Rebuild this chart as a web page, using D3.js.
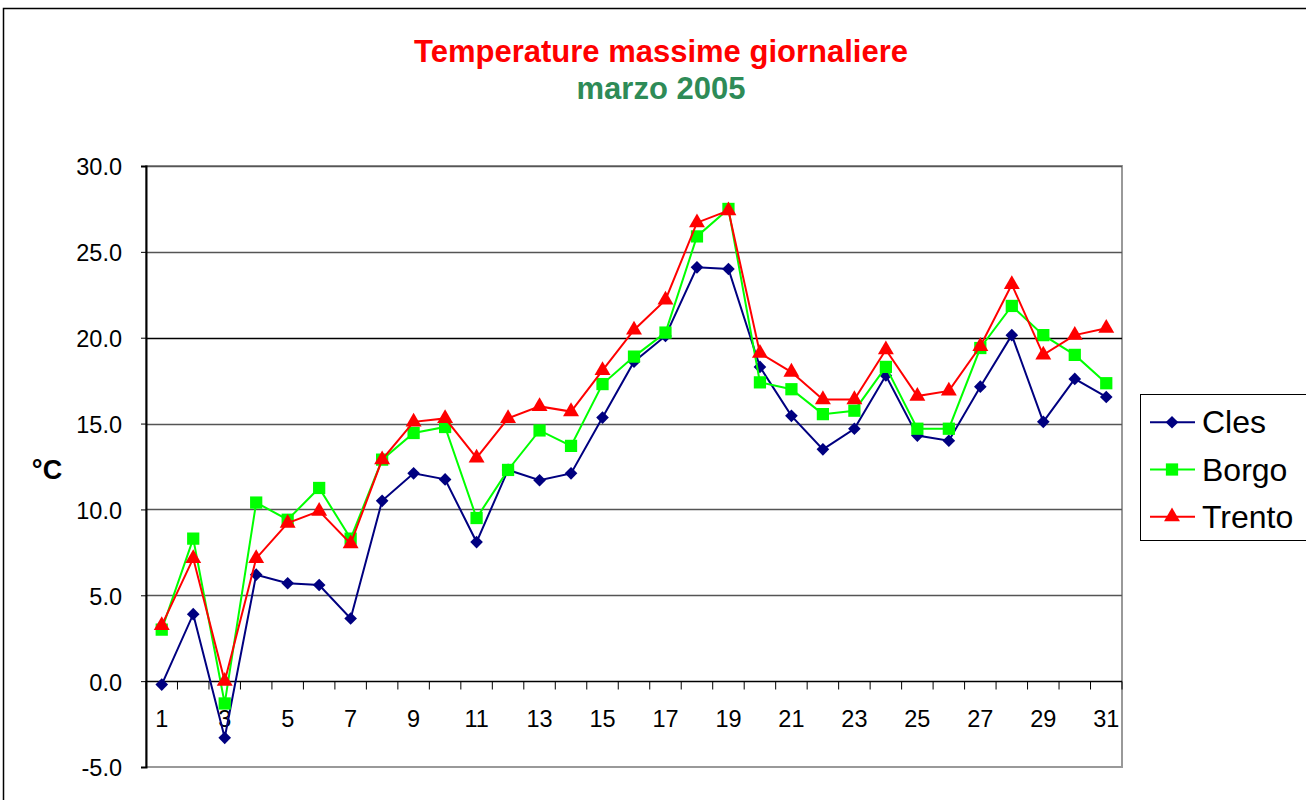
<!DOCTYPE html>
<html>
<head>
<meta charset="utf-8">
<script src="https://cdnjs.cloudflare.com/ajax/libs/d3/7.8.5/d3.min.js"></script>
<style>
  body { margin: 0; background: #fff; }
  svg { font-family: "Liberation Sans", Arial, sans-serif; }
</style>
</head>
<body>
<div id="chart"></div>
<script>
var width = 1306;
var height = 800;

var days = d3.range(1, 32);
var dayLabels = ["1","3","5","7","9","11","13","15","17","19","21","23","25","27","29","31"];
var yTicks = [-5, 0, 5, 10, 15, 20, 25, 30];

var cles = [-0.2, 3.9, -3.3, 6.2, 5.7, 5.6, 3.65, 10.5, 12.1, 11.75, 8.1, 12.3, 11.7, 12.1, 15.35,
            18.6, 20.1, 24.1, 24.0, 18.3, 15.45, 13.5, 14.7, 17.8, 14.3, 14.0, 17.15, 20.15, 15.1, 17.6, 16.55];
var borgo = [3.0, 8.3, -1.3, 10.4, 9.4, 11.25, 8.3, 12.9, 14.45, 14.8, 9.5, 12.3, 14.6, 13.7, 17.3,
             18.9, 20.3, 25.9, 27.5, 17.4, 17.0, 15.55, 15.75, 18.3, 14.7, 14.7, 19.4, 21.85, 20.15, 19.0, 17.35];
var trento = [3.25, 7.15, 0.0, 7.15, 9.2, 9.9, 8.0, 12.9, 15.1, 15.3, 13.0, 15.3, 16.0, 15.7, 18.1,
              20.45, 22.2, 26.7, 27.4, 19.1, 18.0, 16.4, 16.4, 19.3, 16.6, 16.9, 19.5, 23.1, 19.0, 20.15, 20.55];

// diamond is drawn as a square turned by 45 degrees
var series = [
  {name: "Cles", values: cles, color: "#000080", symbol: d3.symbolSquare, size: 80, rot: 45},
  {name: "Borgo", values: borgo, color: "#00ff00", symbol: d3.symbolSquare, size: 150, rot: 0},
  {name: "Trento", values: trento, color: "#ff0000", symbol: d3.symbolTriangle, size: 110, rot: 0}
];

var plot = {left: 146, right: 1122, top: 166, bottom: 767};

var xScale = d3.scaleBand().domain(days).range([plot.left, plot.right]);
var yScale = d3.scaleLinear().domain([-5, 30]).range([plot.bottom, plot.top]);

var svg = d3.select("#chart")
  .append("svg")
  .attr("width", width)
  .attr("height", height);

// outer chart frame
svg.append("rect")
  .attr("x", 3.5).attr("y", 8.5)
  .attr("width", 1320).attr("height", 820)
  .attr("fill", "none")
  .attr("stroke", "#000")
  .attr("stroke-width", 1.5);

// titles
svg.append("text")
  .attr("x", 661).attr("y", 62)
  .attr("text-anchor", "middle")
  .style("font-size", "31px").style("font-weight", "bold")
  .style("fill", "#ff0000")
  .text("Temperature massime giornaliere");

svg.append("text")
  .attr("x", 661).attr("y", 99)
  .attr("text-anchor", "middle")
  .style("font-size", "31px").style("font-weight", "bold")
  .style("fill", "#2e8b57")
  .text("marzo 2005");

// plot border
svg.append("rect")
  .attr("x", plot.left).attr("y", plot.top)
  .attr("width", plot.right - plot.left).attr("height", plot.bottom - plot.top)
  .attr("fill", "#fff")
  .attr("stroke", "#999")
  .attr("stroke-width", 2);

// gridlines
svg.append("g")
  .selectAll("line")
  .data(yTicks.filter(function(d) { return d !== 0 && d !== -5; }))
  .enter()
  .append("line")
  .attr("x1", plot.left).attr("x2", plot.right)
  .attr("y1", function(d) { return Math.round(yScale(d)) + 0.5; })
  .attr("y2", function(d) { return Math.round(yScale(d)) + 0.5; })
  .attr("stroke", function(d) { return d === 20 ? "#000" : "#555"; })
  .attr("stroke-width", 1.5);

// y axis
var yAxis = d3.axisLeft(yScale)
  .tickValues(yTicks)
  .tickSize(5)
  .tickPadding(19)
  .tickFormat(function(d) { return d.toFixed(1); });

var gy = svg.append("g")
  .attr("transform", "translate(" + plot.left + ",0)")
  .call(yAxis);
gy.select(".domain").attr("stroke", "#000").attr("stroke-width", 2);
gy.selectAll(".tick line").attr("stroke", "#000");
gy.selectAll("text")
  .style("font-size", "23.5px")
  .style("font-family", "Liberation Sans, Arial, sans-serif")
  .attr("dy", "0.38em")
  .attr("fill", "#000");

// x axis at zero
var y0 = Math.round(yScale(0)) + 0.5;
var gx = svg.append("g").attr("transform", "translate(0," + y0 + ")");
gx.append("line")
  .attr("x1", plot.left).attr("x2", plot.right)
  .attr("stroke", "#000").attr("stroke-width", 1.5);
gx.selectAll("line.tick")
  .data(days.concat([32]))
  .enter()
  .append("line")
  .attr("class", "tick")
  .attr("x1", function(d) { return d === 32 ? plot.right : xScale(d); })
  .attr("x2", function(d) { return d === 32 ? plot.right : xScale(d); })
  .attr("y1", 0).attr("y2", 8)
  .attr("stroke", "#000");
gx.selectAll("text")
  .data(dayLabels)
  .enter()
  .append("text")
  .attr("x", function(d) { return xScale(+d) + xScale.bandwidth() / 2; })
  .attr("y", 45)
  .attr("text-anchor", "middle")
  .style("font-size", "23.5px")
  .style("fill", "#000")
  .text(function(d) { return d; });

// y title
svg.append("text")
  .attr("x", 47).attr("y", 479)
  .attr("text-anchor", "middle")
  .style("font-size", "27px").style("font-weight", "bold")
  .text("°C");

// lines and markers
var line = d3.line()
  .x(function(d, i) { return xScale(days[i]) + xScale.bandwidth() / 2; })
  .y(function(d) { return yScale(d); });

series.forEach(function(s) {
  var g = svg.append("g");
  g.append("path")
    .attr("d", line(s.values))
    .attr("fill", "none")
    .attr("stroke", s.color)
    .attr("stroke-width", 2);
  g.selectAll("path.marker")
    .data(s.values)
    .enter()
    .append("path")
    .attr("class", "marker")
    .attr("d", d3.symbol().type(s.symbol).size(s.size))
    .attr("transform", function(d, i) {
      return "translate(" + (xScale(days[i]) + xScale.bandwidth() / 2) + "," + yScale(d) + ") rotate(" + s.rot + ")";
    })
    .attr("fill", s.color);
});

// legend
var legend = svg.append("g");
legend.append("rect")
  .attr("x", 1140.5).attr("y", 394.5)
  .attr("width", 180).attr("height", 146)
  .attr("fill", "#fff")
  .attr("stroke", "#000")
  .attr("stroke-width", 1);

var rows = legend.selectAll("g.row")
  .data(series)
  .enter()
  .append("g")
  .attr("class", "row")
  .attr("transform", function(d, i) { return "translate(0," + (422.3 + i * 47.2) + ")"; });
rows.append("line")
  .attr("x1", 1150).attr("x2", 1195)
  .attr("stroke", function(d) { return d.color; })
  .attr("stroke-width", 2);
rows.append("path")
  .attr("d", function(d) { return d3.symbol().type(d.symbol).size(d.size)(); })
  .attr("transform", function(d) { return "translate(1172,0) rotate(" + d.rot + ")"; })
  .attr("fill", function(d) { return d.color; });
rows.append("text")
  .attr("x", 1202).attr("y", 11)
  .style("font-size", "32px")
  .style("fill", "#000")
  .text(function(d) { return d.name; });
</script>
</body>
</html>
